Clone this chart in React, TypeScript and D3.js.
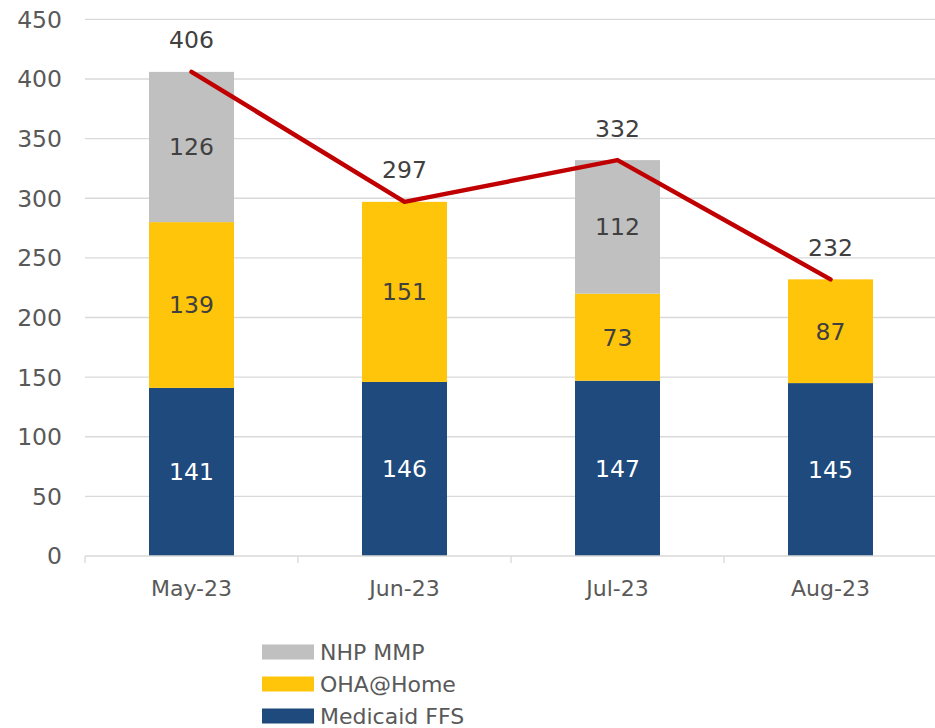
import React, { useEffect, useRef } from 'react';
import * as d3 from 'd3';

// chart data
const months = ['May-23', 'Jun-23', 'Jul-23', 'Aug-23'];
const medicaidFFS = [141, 146, 147, 145];
const ohaHome = [139, 151, 73, 87];
const nhpMMP = [126, 0, 112, 0];
const totals = [406, 297, 332, 232];
const yTicks = [0, 50, 100, 150, 200, 250, 300, 350, 400, 450];

const seriesNames = ['Medicaid FFS', 'OHA@Home', 'NHP MMP'];
const seriesColors = ['#1F4A7D', '#FFC50A', '#C0C0C0'];
const labelColors = ['#FFFFFF', '#404040', '#404040'];

const FONT = '"DejaVu Sans", Arial, sans-serif';
const NUM_SIZE = '23.5px';
const TXT_SIZE = '22px';

export default function App() {
  const ref = useRef<SVGSVGElement>(null);

  useEffect(() => {
    const svg = d3.select(ref.current);
    svg.selectAll('*').remove();

    const width = 935;
    const x = d3.scaleBand().domain(months).range([85, 937]);
    const y = d3.scaleLinear().domain([0, 450]).range([556, 19.4]);
    const barW = 85;

    // gridlines
    svg.append('g').selectAll('line')
      .data(yTicks.filter(t => t > 0))
      .enter().append('line')
      .attr('x1', 85).attr('x2', width)
      .attr('y1', d => y(d)).attr('y2', d => y(d))
      .attr('stroke', '#D9D9D9').attr('stroke-width', 1.3);

    // y labels
    svg.append('g').selectAll('text')
      .data(yTicks)
      .enter().append('text')
      .attr('x', 62).attr('y', d => y(d))
      .attr('dy', '0.36em')
      .attr('text-anchor', 'end')
      .style('font-family', FONT).style('font-size', NUM_SIZE)
      .attr('fill', '#595959')
      .text(d => d);

    // stacked bars
    const rows = months.map((m, i) => ({ month: m, s0: medicaidFFS[i], s1: ohaHome[i], s2: nhpMMP[i] }));
    const stack = d3.stack<any>().keys(['s0', 's1', 's2'])(rows);

    stack.forEach((layer, k) => {
      const g = svg.append('g');
      layer.forEach((seg, i) => {
        const v = seg[1] - seg[0];
        if (v <= 0) return;
        const cx = x(months[i])! + x.bandwidth() / 2;
        g.append('rect')
          .attr('x', cx - barW / 2)
          .attr('y', y(seg[1]))
          .attr('width', barW)
          .attr('height', y(seg[0]) - y(seg[1]))
          .attr('fill', seriesColors[k]);
        g.append('text')
          .attr('x', cx)
          .attr('y', (y(seg[0]) + y(seg[1])) / 2)
          .attr('dy', '0.36em')
          .attr('text-anchor', 'middle')
          .style('font-family', FONT).style('font-size', NUM_SIZE)
          .attr('fill', labelColors[k])
          .text(v);
      });
    });

    // x axis
    svg.append('line')
      .attr('x1', 85).attr('x2', width)
      .attr('y1', 556).attr('y2', 556)
      .attr('stroke', '#D9D9D9').attr('stroke-width', 1.3);
    const bounds = months.map(m => x(m)!).concat([x.range()[1]]);
    svg.append('g').selectAll('line')
      .data(bounds)
      .enter().append('line')
      .attr('x1', d => d).attr('x2', d => d)
      .attr('y1', 556).attr('y2', 563)
      .attr('stroke', '#D9D9D9').attr('stroke-width', 1.3);
    svg.append('g').selectAll('text')
      .data(months)
      .enter().append('text')
      .attr('x', d => x(d)! + x.bandwidth() / 2)
      .attr('y', 588)
      .attr('dy', '0.36em')
      .attr('text-anchor', 'middle')
      .style('font-family', FONT).style('font-size', TXT_SIZE)
      .attr('fill', '#595959')
      .text(d => d);

    // total line
    const line = d3.line<number>()
      .x((d, i) => x(months[i])! + x.bandwidth() / 2)
      .y(d => y(d));
    svg.append('path')
      .attr('d', line(totals)!)
      .attr('fill', 'none')
      .attr('stroke', '#C00000')
      .attr('stroke-width', 4.5)
      .attr('stroke-linecap', 'round')
      .attr('stroke-linejoin', 'round');

    svg.append('g').selectAll('text')
      .data(totals)
      .enter().append('text')
      .attr('x', (d, i) => x(months[i])! + x.bandwidth() / 2)
      .attr('y', d => y(d) - 32)
      .attr('dy', '0.36em')
      .attr('text-anchor', 'middle')
      .style('font-family', FONT).style('font-size', NUM_SIZE)
      .attr('fill', '#404040')
      .text(d => d);

    // legend
    const legendOrder = [2, 1, 0];
    const lg = svg.append('g');
    legendOrder.forEach((k, j) => {
      const cy = 652 + j * 32;
      lg.append('rect')
        .attr('x', 262).attr('y', cy - 7.5)
        .attr('width', 52).attr('height', 15)
        .attr('fill', seriesColors[k]);
      lg.append('text')
        .attr('x', 320).attr('y', cy)
        .attr('dy', '0.36em')
        .style('font-family', FONT).style('font-size', TXT_SIZE)
        .attr('fill', '#595959')
        .text(seriesNames[k]);
    });
  }, []);

  return (
    <svg ref={ref} width={935} height={728}
      style={{ position: 'absolute', left: 0, top: 0, background: '#fff' }} />
  );
}
